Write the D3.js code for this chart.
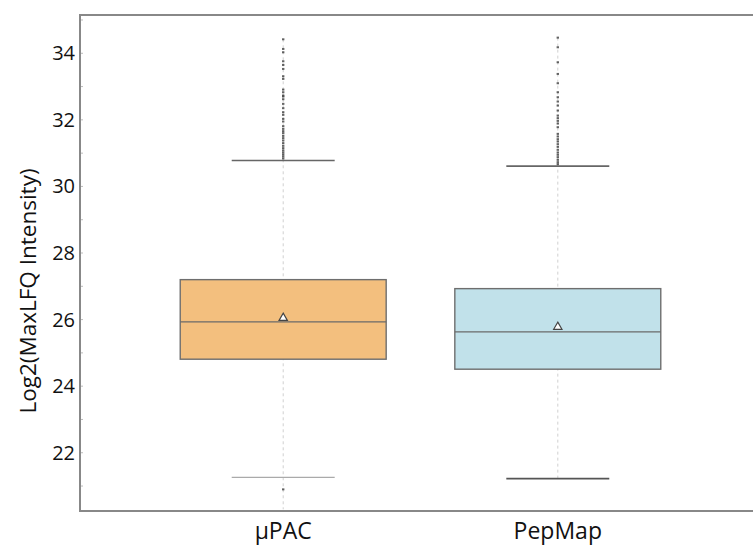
<!DOCTYPE html>
<html>
<head>
<meta charset="utf-8">
<script src="https://cdn.jsdelivr.net/npm/d3@7"></script>
<style>
  body { margin: 0; background: #fff; }
  svg { display: block; }
</style>
</head>
<body>
<svg id="chart" width="753" height="545"></svg>
<script>
// box plot values
const categories = ["\u03bcPAC", "PepMap"];
const q1 = [24.81, 24.51];
const medians = [25.93, 25.63];
const q3 = [27.20, 26.93];
const means = [26.05, 25.78];
const whiskerLow = [21.26, 21.22];
const whiskerHigh = [30.78, 30.61];
const dataMin = [20.30, 21.22];
const dataMax = [34.42, 34.47];

const outliersPAC = [34.42, 34.13, 34.03, 33.76, 33.65, 33.53, 33.31, 33.23, 32.91, 32.83,
  32.73, 32.70, 32.62, 32.48, 32.35, 32.23, 32.15, 32.03, 31.95, 31.81, 31.73, 31.66,
  31.60, 31.52, 31.45, 31.38, 31.30, 31.22, 31.15, 31.08, 31.02, 30.96, 30.90, 30.84, 20.90];
const outliersPepMap = [34.47, 34.18, 33.73, 33.38, 33.10, 32.83, 32.68, 32.55, 32.43, 32.28,
  32.13, 32.05, 31.97, 31.89, 31.78, 31.58, 31.50, 31.42, 31.35, 31.27, 31.19, 31.10,
  31.02, 30.95, 30.88, 30.80, 30.73, 30.67];

const yTicks = [22, 24, 26, 28, 30, 32, 34];
const yMinorTicks = [21, 22, 23, 24, 25, 26, 27, 28, 29, 30, 31, 32, 33, 34, 35];

const fills = ["#f3bf7e", "#c1e1ea"];

const svg = d3.select("#chart");
const margin = { left: 80, top: 15, bottom: 511 };

const y = d3.scaleLinear()
    .domain([20.25, 35.15])
    .range([margin.bottom, margin.top]);

const x = d3.scalePoint()
    .domain(categories)
    .range([margin.left, 761])
    .padding(0.74);

const boxW = x.step() * 0.75;
const whiskW = boxW / 2;

const boxes = categories.map((c, i) => ({
    name: c, q1: q1[i], med: medians[i], q3: q3[i], mean: means[i],
    lo: whiskerLow[i], hi: whiskerHigh[i], min: dataMin[i], max: dataMax[i],
    fill: fills[i], outliers: i === 0 ? outliersPAC : outliersPepMap
}));

// minor ticks along the y axis (inside)
svg.append("g")
    .selectAll("line")
    .data(yMinorTicks)
    .enter()
    .append("line")
    .attr("x1", margin.left)
    .attr("x2", margin.left + 3)
    .attr("y1", d => y(d))
    .attr("y2", d => y(d))
    .attr("stroke", "#bbb")
    .attr("stroke-width", 1);

const g = svg.selectAll(".box")
    .data(boxes)
    .enter()
    .append("g")
    .attr("class", "box");

// dashed range line min..max
g.append("line")
    .attr("x1", d => x(d.name))
    .attr("x2", d => x(d.name))
    .attr("y1", d => y(d.max))
    .attr("y2", d => y(d.min))
    .attr("stroke", "#d0d0d0")
    .attr("stroke-width", 1)
    .attr("stroke-dasharray", "3,3");

// whisker caps
g.append("line")
    .attr("x1", d => x(d.name) - whiskW / 2)
    .attr("x2", d => x(d.name) + whiskW / 2)
    .attr("y1", d => y(d.hi))
    .attr("y2", d => y(d.hi))
    .attr("stroke", "#666")
    .attr("stroke-width", 1.6);

g.append("line")
    .attr("x1", d => x(d.name) - whiskW / 2)
    .attr("x2", d => x(d.name) + whiskW / 2)
    .attr("y1", d => y(d.lo))
    .attr("y2", d => y(d.lo))
    .attr("stroke", (d, i) => i === 0 ? "#aaa" : "#555")
    .attr("stroke-width", (d, i) => i === 0 ? 1.4 : 1.8);

// outliers
g.selectAll(".out")
    .data(d => d.outliers.map(v => ({ name: d.name, v: v })))
    .enter()
    .append("rect")
    .attr("class", "out")
    .attr("x", d => x(d.name) - 1.2)
    .attr("y", d => y(d.v) - 1)
    .attr("width", 2.4)
    .attr("height", 2)
    .attr("fill", "#333")
    .attr("opacity", 0.75);

// boxes
g.append("rect")
    .attr("x", d => x(d.name) - boxW / 2)
    .attr("y", d => y(d.q3))
    .attr("width", boxW)
    .attr("height", d => y(d.q1) - y(d.q3))
    .attr("fill", d => d.fill)
    .attr("stroke", "#6e6e6e")
    .attr("stroke-width", 1.4);

g.append("line")
    .attr("x1", d => x(d.name) - boxW / 2)
    .attr("x2", d => x(d.name) + boxW / 2)
    .attr("y1", d => y(d.med))
    .attr("y2", d => y(d.med))
    .attr("stroke", "#6a6a6a")
    .attr("stroke-width", 1.4);

// mean marker
g.append("path")
    .attr("d", d3.symbol().type(d3.symbolTriangle).size(30))
    .attr("transform", d => `translate(${x(d.name)},${y(d.mean)})`)
    .attr("fill", "#fff")
    .attr("stroke", "#444")
    .attr("stroke-width", 1.2);

// frame: left, top, bottom
svg.append("path")
    .attr("d", `M753,${margin.top}H${margin.left}V${margin.bottom}H753`)
    .attr("fill", "none")
    .attr("stroke", "#888")
    .attr("stroke-width", 2);

// y tick labels
svg.append("g")
    .selectAll("text")
    .data(yTicks)
    .enter()
    .append("text")
    .attr("x", margin.left - 5)
    .attr("y", d => y(d))
    .attr("dy", "0.35em")
    .attr("text-anchor", "end")
    .attr("font-family", "Open Sans")
    .attr("font-size", "20px")
    .attr("fill", "#111")
    .text(d => d);

// x labels
svg.append("g")
    .selectAll("text")
    .data(categories)
    .enter()
    .append("text")
    .attr("x", d => x(d))
    .attr("y", 539)
    .attr("text-anchor", "middle")
    .attr("font-family", "Open Sans")
    .attr("font-size", "23px")
    .attr("fill", "#111")
    .text(d => d);

svg.append("text")
    .attr("transform", "translate(28,291) rotate(-90)")
    .attr("dy", "0.35em")
    .attr("text-anchor", "middle")
    .attr("font-family", "Open Sans")
    .attr("font-size", "22.5px")
    .attr("fill", "#111")
    .text("Log2(MaxLFQ Intensity)");
</script>
</body>
</html>
